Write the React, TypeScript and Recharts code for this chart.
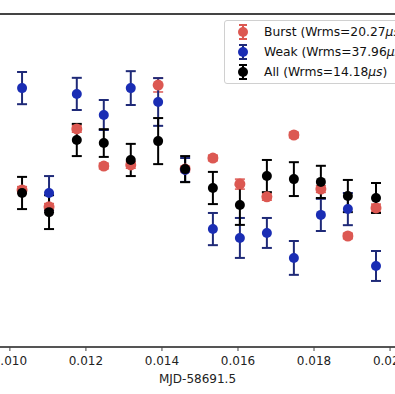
import React from "react";
import {
  ScatterChart,
  Scatter,
  XAxis,
  YAxis,
  ErrorBar,
  ReferenceLine,
} from "recharts";

// MJD - 58691.5 (days), one epoch per ~61 s
const epochs = [
  0.01032, 0.01103, 0.01176, 0.01247, 0.01318, 0.0139, 0.01461,
  0.01534, 0.01605, 0.01676, 0.01747, 0.01818, 0.01889, 0.01963,
];

// timing residuals (μs)
const burstRes = [-3.4, -9.5, 18.6, 5.2, 5.6, 34.4, 4.1, 8.1, -1.3, -5.9, 16.4, -3.1, -20.0, -9.9];
const burstErr = [1.2, 1.2, 1.2, 1.0, 1.2, 2.5, 1.0, 1.0, 1.8, 1.2, 1.0, 1.2, 1.0, 1.4];
const weakRes = [33.3, -4.5, 31.2, 23.6, 33.3, 28.3, 3.8, -17.5, -20.7, -18.9, -27.9, -12.4, -10.3, -30.8];
const weakErr = [5.8, 6.1, 5.8, 5.4, 6.1, 8.6, 4.3, 5.8, 7.2, 5.4, 6.1, 5.8, 5.8, 5.4];
const allRes = [-4.5, -11.4, 14.6, 13.5, 7.4, 14.2, 4.1, -2.7, -8.8, 1.6, 0.5, -0.5, -5.6, -6.3];
const allErr = [5.8, 6.1, 5.8, 5.0, 5.8, 8.3, 4.7, 5.8, 7.2, 5.8, 6.1, 5.8, 5.8, 5.4];

const xTicks = [0.01, 0.012, 0.014, 0.016, 0.018, 0.02];

const RED = "#dc5852";
const BLUE = "#1a2db4";
const BLUE_ERR = "#1f2a78";
const BLACK = "#000000";

const FONT = "'DejaVu Sans', sans-serif";

function build(res: number[], err: number[]) {
  return epochs.map((t, i) => ({ t, y: res[i], err: err[i] }));
}

const burstData = build(burstRes, burstErr);
const weakData = build(weakRes, weakErr);
const allData = build(allRes, allErr);

function dot(color: string, r = 5) {
  // eslint-disable-next-line @typescript-eslint/no-explicit-any
  return (props: any) => <circle cx={props.cx} cy={props.cy} r={r} fill={color} />;
}

function LegendIcon({ color, errColor }: { color: string; errColor: string }) {
  return (
    <svg width={14} height={16} style={{ display: "block" }}>
      <line x1={7} y1={1} x2={7} y2={15} stroke={errColor} strokeWidth={2} />
      <line x1={3} y1={1} x2={11} y2={1} stroke={errColor} strokeWidth={2} />
      <line x1={3} y1={15} x2={11} y2={15} stroke={errColor} strokeWidth={2} />
      <circle cx={7} cy={8} r={5} fill={color} />
    </svg>
  );
}

const legendItems = [
  { label: "Burst (Wrms=20.27", unit: "μs)", color: RED, err: RED },
  { label: "Weak (Wrms=37.96", unit: "μs)", color: BLUE, err: BLUE_ERR },
  { label: "All (Wrms=14.18", unit: "μs)", color: BLACK, err: BLACK },
];

function ChartLegend() {
  return (
    <div
      style={{
        position: "absolute",
        left: 224,
        top: 20,
        width: 200,
        height: 64,
        border: "1px solid #d0d0d0",
        borderRadius: 3,
        background: "rgba(255,255,255,0.85)",
        fontFamily: FONT,
        fontSize: 12.3,
        color: "#111",
        boxSizing: "border-box",
        paddingTop: 1,
      }}
    >
      {legendItems.map((it) => (
        <div
          key={it.label}
          style={{ display: "flex", alignItems: "center", height: 20, whiteSpace: "nowrap" }}
        >
          <div style={{ width: 39, paddingLeft: 11, boxSizing: "border-box" }}>
            <LegendIcon color={it.color} errColor={it.err} />
          </div>
          <span>
            {it.label}
            <i>{it.unit.slice(0, 2)}</i>
            {it.unit.slice(2)}
          </span>
        </div>
      ))}
    </div>
  );
}

export default function App() {
  return (
    <div
      style={{
        position: "absolute",
        left: 0,
        top: 0,
        width: 395,
        height: 394,
        overflow: "hidden",
        background: "#fff",
      }}
    >
      <ScatterChart width={395} height={394} margin={{ top: 14, right: 0, bottom: 0, left: 0 }}>
        <XAxis
          type="number"
          dataKey="t"
          domain={[0.00974, 0.02013]}
          allowDataOverflow
          ticks={xTicks}
          interval={0}
          tickFormatter={(v: number) => v.toFixed(3)}
          tick={{ fill: "#222", fontSize: 12, fontFamily: FONT }}
          tickLine={{ stroke: "#444", strokeWidth: 1 }}
          tickSize={4}
          tickMargin={5}
          axisLine={{ stroke: "#555", strokeWidth: 2 }}
          height={47}
          label={{
            value: "MJD-58691.5",
            position: "insideBottom",
            offset: 11,
            fill: "#222",
            fontSize: 12,
            fontFamily: FONT,
          }}
        />
        <YAxis type="number" dataKey="y" domain={[-60, 60]} hide />
        <ReferenceLine y={60} stroke="#444" strokeWidth={2} />
        <Scatter data={burstData} shape={dot(RED, 5.5)} isAnimationActive={false}>
          <ErrorBar dataKey="err" direction="y" width={5} stroke={RED} strokeWidth={1.5} />
        </Scatter>
        <Scatter data={weakData} shape={dot(BLUE)} isAnimationActive={false}>
          <ErrorBar dataKey="err" direction="y" width={5} stroke={BLUE_ERR} strokeWidth={2} />
        </Scatter>
        <Scatter data={allData} shape={dot(BLACK)} isAnimationActive={false}>
          <ErrorBar dataKey="err" direction="y" width={5} stroke={BLACK} strokeWidth={2} />
        </Scatter>
      </ScatterChart>
      <ChartLegend />
    </div>
  );
}
